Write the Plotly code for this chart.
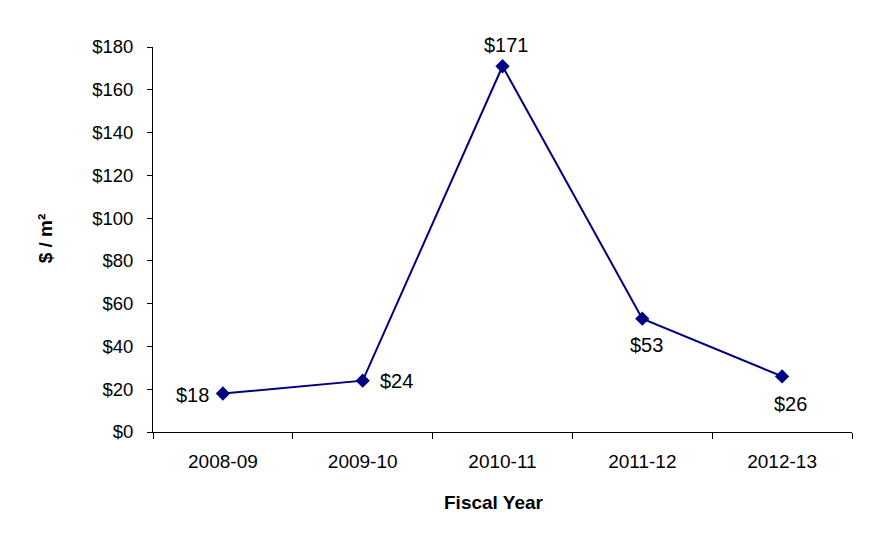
import plotly.graph_objects as go

years = ["2008-09", "2009-10", "2010-11", "2011-12", "2012-13"]
cost = [18, 24, 171, 53, 26]
labels = ["$18", "$24", "$171", "$53", "$26"]
y_ticks = [0, 20, 40, 60, 80, 100, 120, 140, 160, 180]
y_tick_text = ["$0", "$20", "$40", "$60", "$80", "$100", "$120", "$140", "$160", "$180"]

FONT = "Liberation Sans, Arial, sans-serif"
NAVY = "#000080"

fig = go.Figure()
fig.add_trace(go.Scatter(
    x=years, y=cost, mode="lines+markers",
    line=dict(color=NAVY, width=2),
    marker=dict(symbol="diamond", size=11, color=NAVY),
    hoverinfo="skip", showlegend=False,
))

shifts = [(-30, -1), (34, 0), (4, 21), (4, -26), (8, -28)]
for yr, v, lab, (dx, dy) in zip(years, cost, labels, shifts):
    fig.add_annotation(x=yr, y=v, text=lab, showarrow=False,
                       xshift=dx, yshift=dy,
                       font=dict(family=FONT, size=20, color="black"))

fig.add_annotation(xref="paper", yref="paper", x=-0.1545, y=0.503,
                   xanchor="center", yanchor="middle",
                   text="<b>$ / m²</b>", textangle=-90, showarrow=False,
                   font=dict(family=FONT, size=19, color="black"))
fig.add_annotation(xref="paper", yref="paper", x=0.488, y=-0.182,
                   xanchor="center", yanchor="middle",
                   text="<b>Fiscal Year</b>", showarrow=False,
                   font=dict(family=FONT, size=19, color="black"))

fig.update_layout(
    width=880, height=556,
    margin=dict(l=153, r=28, t=47, b=124),
    paper_bgcolor="white", plot_bgcolor="white",
    font=dict(family=FONT, size=19, color="black"),
    xaxis=dict(
        type="category", range=[-0.5, 4.5], showgrid=False, showline=True,
        linecolor="black", linewidth=1,
        ticks="outside", tickson="boundaries", ticklen=6, tickcolor="black",
        tickfont=dict(family=FONT, size=19, color="black"),
        ticklabelstandoff=12,
        zeroline=False, fixedrange=True,
    ),
    yaxis=dict(
        range=[0, 180], tickvals=y_ticks, ticktext=y_tick_text,
        showgrid=False, showline=True, linecolor="black", linewidth=1,
        ticks="outside", ticklen=5, tickcolor="black",
        tickfont=dict(family=FONT, size=18.5, color="black"),
        ticklabelstandoff=10,
        zeroline=False, fixedrange=True,
    ),
)

fig.write_html("out.html")
